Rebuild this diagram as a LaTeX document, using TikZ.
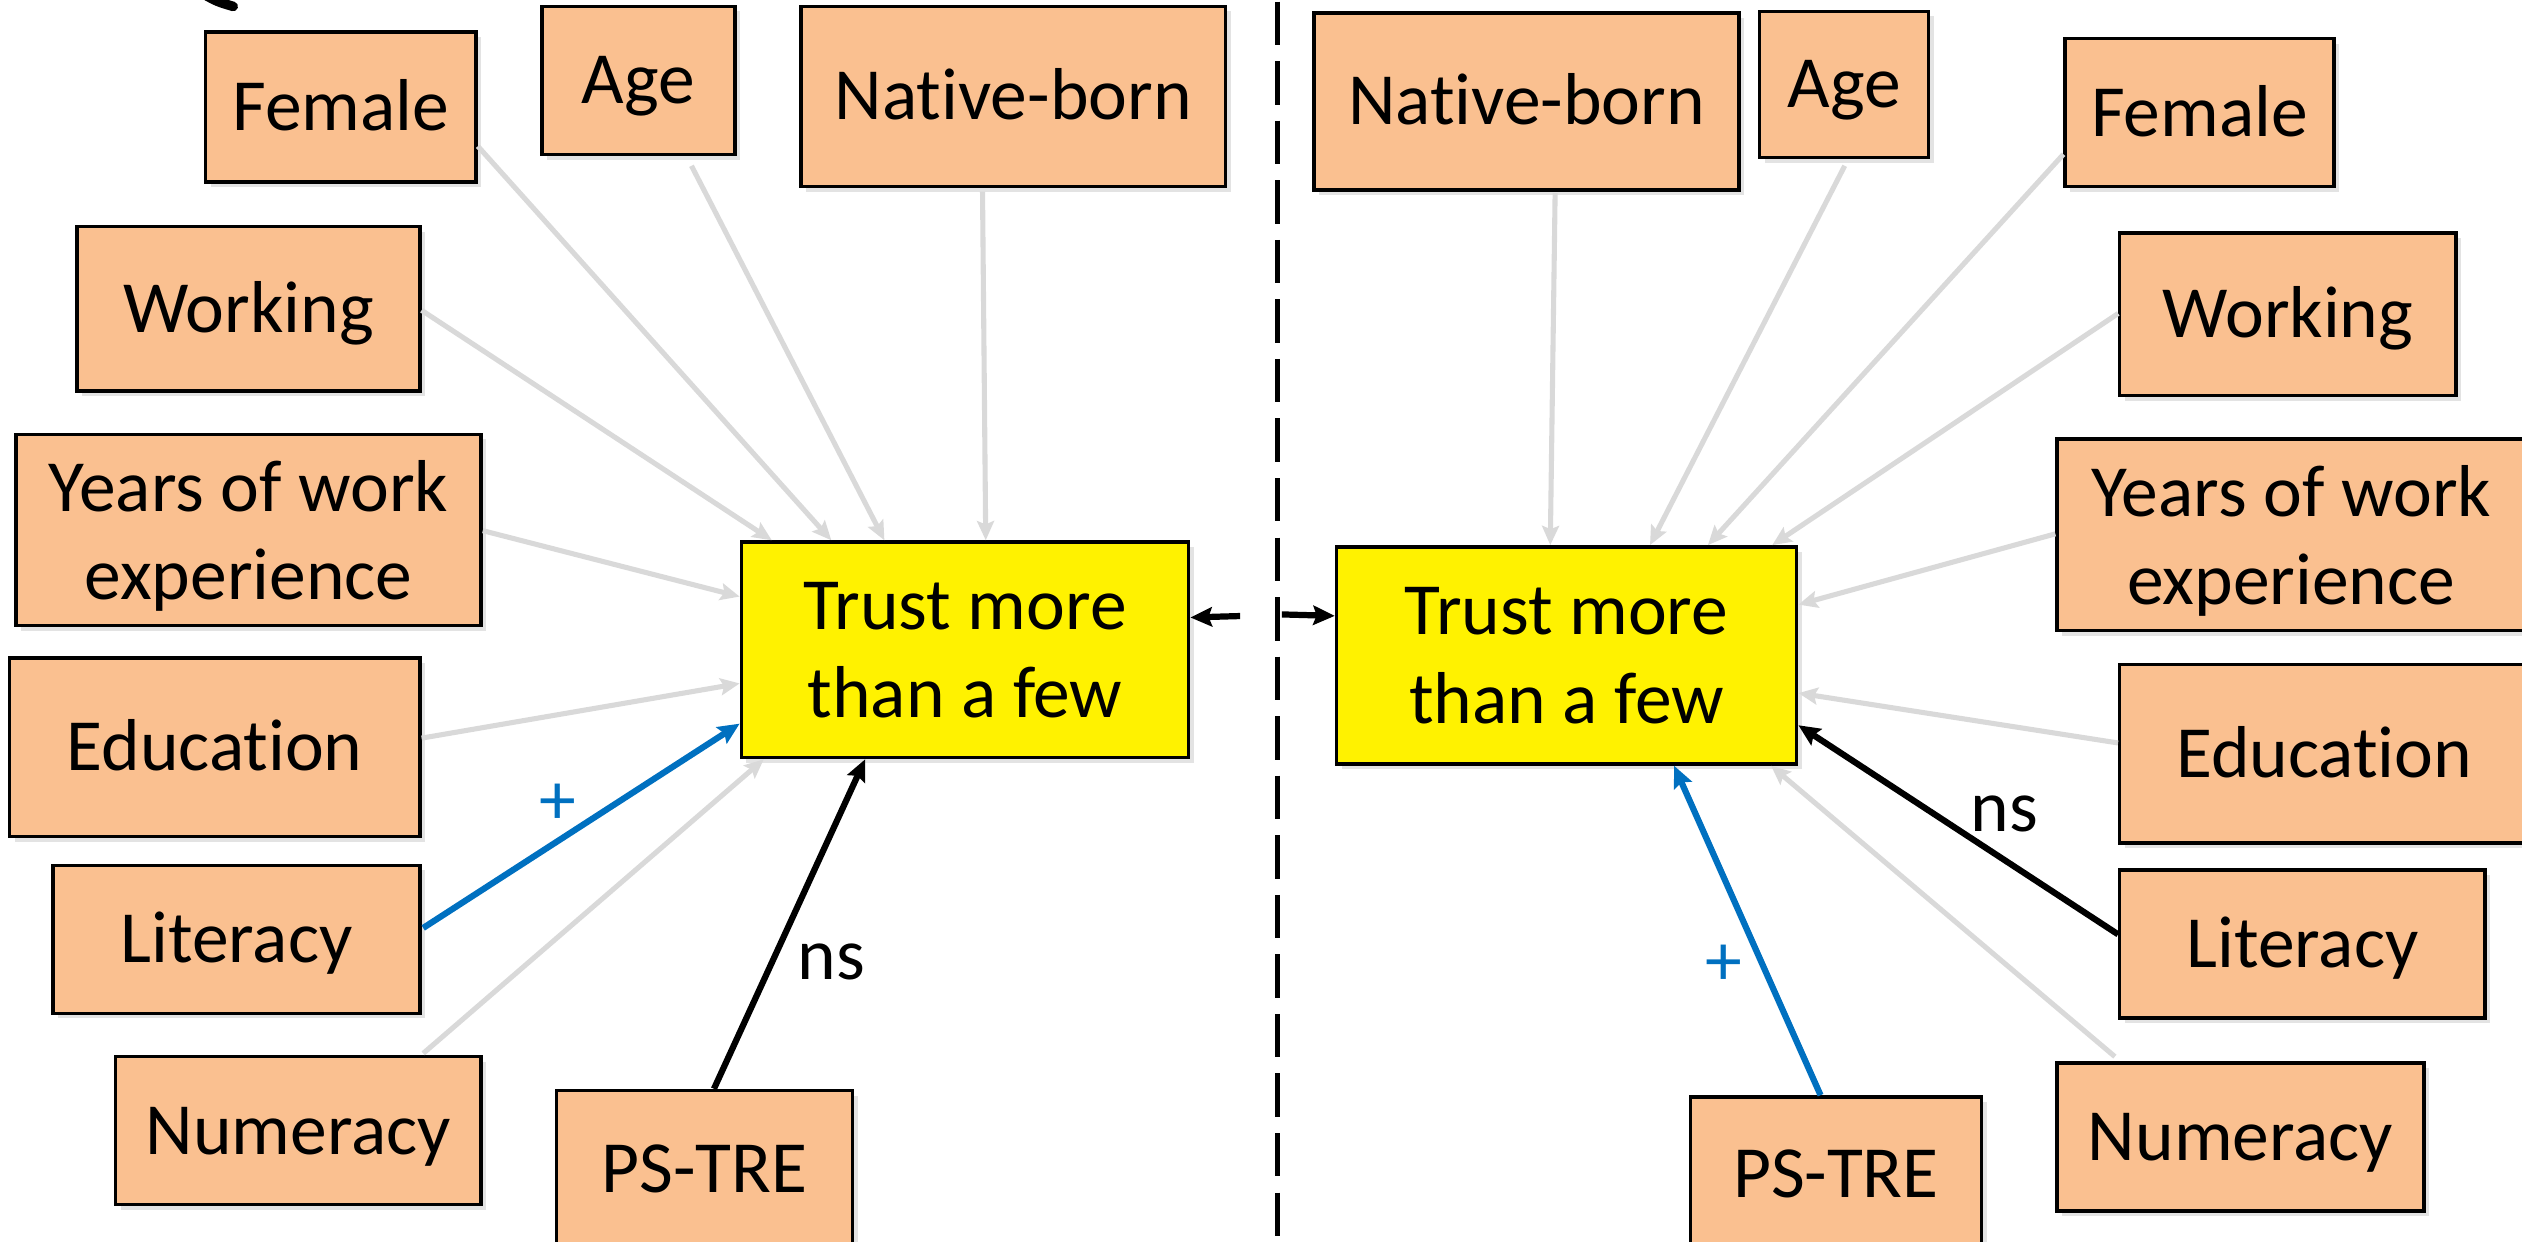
\documentclass[tikz,border=0pt]{standalone}
\usepackage{fontspec}
\setmainfont{Carlito}[Ligatures=CommonOff]
\usetikzlibrary{arrows.meta,calc,shadows}
\definecolor{boxfill}{HTML}{FAC090}
\definecolor{linkgray}{HTML}{D9D9D9}
\definecolor{posblue}{HTML}{0070C0}
\begin{document}
\begin{tikzpicture}[x=0.01cm,y=-0.01cm,
  factor/.style={draw=black, line width=0.6pt, fill=boxfill, inner sep=0pt,
    align=center, font=\fontsize{13}{15.6}\selectfont,
    drop shadow={shadow xshift=0.9pt, shadow yshift=-0.9pt, opacity=0.22}},
  single/.style={text height=10.4pt, text depth=2.1pt},
  twoline/.style={text depth=0pt},
  outcome/.style={factor, fill=yellow},
  weaklink/.style={draw=linkgray, line width=0.9pt, -{Stealth[length=3.4pt,width=3pt,inset=0.6pt]}},
  poslink/.style={draw=posblue, line width=1.1pt, -{Stealth[length=3.8pt,width=3.4pt,inset=0.6pt]}},
  nslink/.style={draw=black, line width=1.1pt, -{Stealth[length=3.8pt,width=3.4pt,inset=0.6pt]}},
  lbl/.style={font=\fontsize{13}{15.6}\selectfont, inner sep=0pt},
]
\useasboundingbox (0,0) rectangle (1568,772);

% ---------- left model ----------
\node[factor, single, minimum width=1.68cm, minimum height=0.93cm] (fL) at (212,66.5) {Female};
\node[factor, single, minimum width=1.20cm, minimum height=0.92cm] (aL) at (397,50) {Age};
\node[factor, single, minimum width=2.64cm, minimum height=1.12cm] (nL) at (630,60) {Native-born};
\node[factor, single, minimum width=2.13cm, minimum height=1.02cm] (wL) at (154.5,192) {Working};
\node[factor, twoline, minimum width=2.89cm, minimum height=1.19cm] (yL) at (154.5,329.5) {Years of work\\experience};
\node[factor, single, minimum width=2.55cm, minimum height=1.11cm] (eL) at (133.5,464.5) {Education};
\node[factor, single, minimum width=2.28cm, minimum height=0.92cm] (lL) at (147,584) {Literacy};
\node[factor, single, minimum width=2.27cm, minimum height=0.92cm] (mL) at (185.5,703) {Numeracy};
\node[factor, single, minimum width=1.84cm, minimum height=0.98cm] (pL) at (438,727) {PS-TRE};
\node[outcome, twoline, minimum width=2.78cm, minimum height=1.34cm] (tL) at (600,404) {Trust more\\than a few};

% ---------- right model ----------
\node[factor, single, minimum width=2.64cm, minimum height=1.10cm] (nR) at (949,63) {Native-born};
\node[factor, single, minimum width=1.05cm, minimum height=0.91cm] (aR) at (1146.5,52.5) {Age};
\node[factor, single, minimum width=1.67cm, minimum height=0.92cm] (fR) at (1367.5,70) {Female};
\node[factor, single, minimum width=2.09cm, minimum height=1.01cm] (wR) at (1422.5,195.5) {Working};
\node[factor, twoline, minimum width=2.91cm, minimum height=1.19cm] (yR) at (1424.5,332.5) {Years of work\\experience};
\node[factor, single, minimum width=2.54cm, minimum height=1.11cm] (eR) at (1445,468.5) {Education};
\node[factor, single, minimum width=2.27cm, minimum height=0.92cm] (lR) at (1431.5,587) {Literacy};
\node[factor, single, minimum width=2.28cm, minimum height=0.92cm] (mR) at (1393,707) {Numeracy};
\node[factor, single, minimum width=1.81cm, minimum height=0.96cm] (pR) at (1141.5,730) {PS-TRE};
\node[outcome, twoline, minimum width=2.86cm, minimum height=1.35cm] (tR) at (974,407.5) {Trust more\\than a few};

% ---------- left connectors ----------
\draw[weaklink] ($(fL.north east)+(0,72)$) -- ($(tL.north west)+(57,0)$);
\draw[weaklink] ($(aL.south west)+(94,6)$) -- ($(tL.north west)+(90,0)$);
\draw[weaklink] ($(nL.south west)+(114,2)$) -- ($(tL.north west)+(153,0)$);
\draw[weaklink] ($(wL.north east)+(0,53)$) -- ($(tL.north west)+(20,0)$);
\draw[weaklink] ($(yL.north east)+(0,61)$) -- ($(tL.north west)+(0,35)$);
\draw[weaklink] ($(eL.north east)+(0,51)$) -- ($(tL.north west)+(0,89)$);
\draw[poslink]  ($(lL.north east)+(1,40)$) -- ($(tL.north west)+(0,114)$);
\draw[weaklink] ($(mL.north east)+(-37,-1)$) -- ($(tL.south west)+(15,0)$);
\draw[nslink]   ($(pL.north west)+(99,0)$) -- ($(tL.south west)+(78,0)$);

\node[lbl, text=posblue] (plusL) at (347,500) {+};
\node[lbl] (nsL) at (517,598) {ns};

% ---------- right connectors ----------
\draw[weaklink] ($(nR.south west)+(151,1)$) -- ($(tR.north west)+(134,0)$);
\draw[weaklink] ($(aR.south west)+(54,4)$) -- ($(tR.north west)+(196,0)$);
\draw[weaklink] ($(fR.north west)+(0,73)$) -- ($(tR.north west)+(232,0)$);
\draw[weaklink] ($(wR.north west)+(0,51)$) -- ($(tR.north west)+(272,0)$);
\draw[weaklink] ($(yR.north west)+(0,60)$) -- ($(tR.north east)+(0,37)$);
\draw[weaklink] ($(eR.north west)+(0,50)$) -- ($(tR.north east)+(0,92)$);
\draw[nslink]   ($(lR.north west)+(0,41)$) -- ($(tR.north east)+(0,112)$);
\draw[weaklink] ($(mR.north west)+(37,-3)$) -- ($(tR.south east)+(-17,0)$);
\draw[poslink]  ($(pR.north west)+(82,0)$) -- ($(tR.south west)+(211,0)$);

\node[lbl] (nsR) at (1246,506) {ns};
\node[lbl, text=posblue] (plusR) at (1072,600) {+};

% ---------- divider and links between the two models ----------
\coordinate (dTop) at (794,1);
\coordinate (dBot) at (794,772);
\draw[line width=0.9pt, dash pattern=on 0.27cm off 0.1cm] (dTop) -- (dBot);

\coordinate (midL) at (771,383);
\coordinate (midR) at (797,382);
\draw[nslink, line width=1.1pt] (midL) -- ($(tL.north east)+(0,48)$);
\draw[nslink, line width=1.1pt] (midR) -- ($(tR.north west)+(0,44)$);

% tail of a curved arrow running off the top edge
\coordinate (tailA) at (126,-4);
\coordinate (tailB) at (145,4);
\draw[line width=1.7pt, line cap=round] (tailA) .. controls (135,1) .. (tailB);
\end{tikzpicture}
\end{document}
